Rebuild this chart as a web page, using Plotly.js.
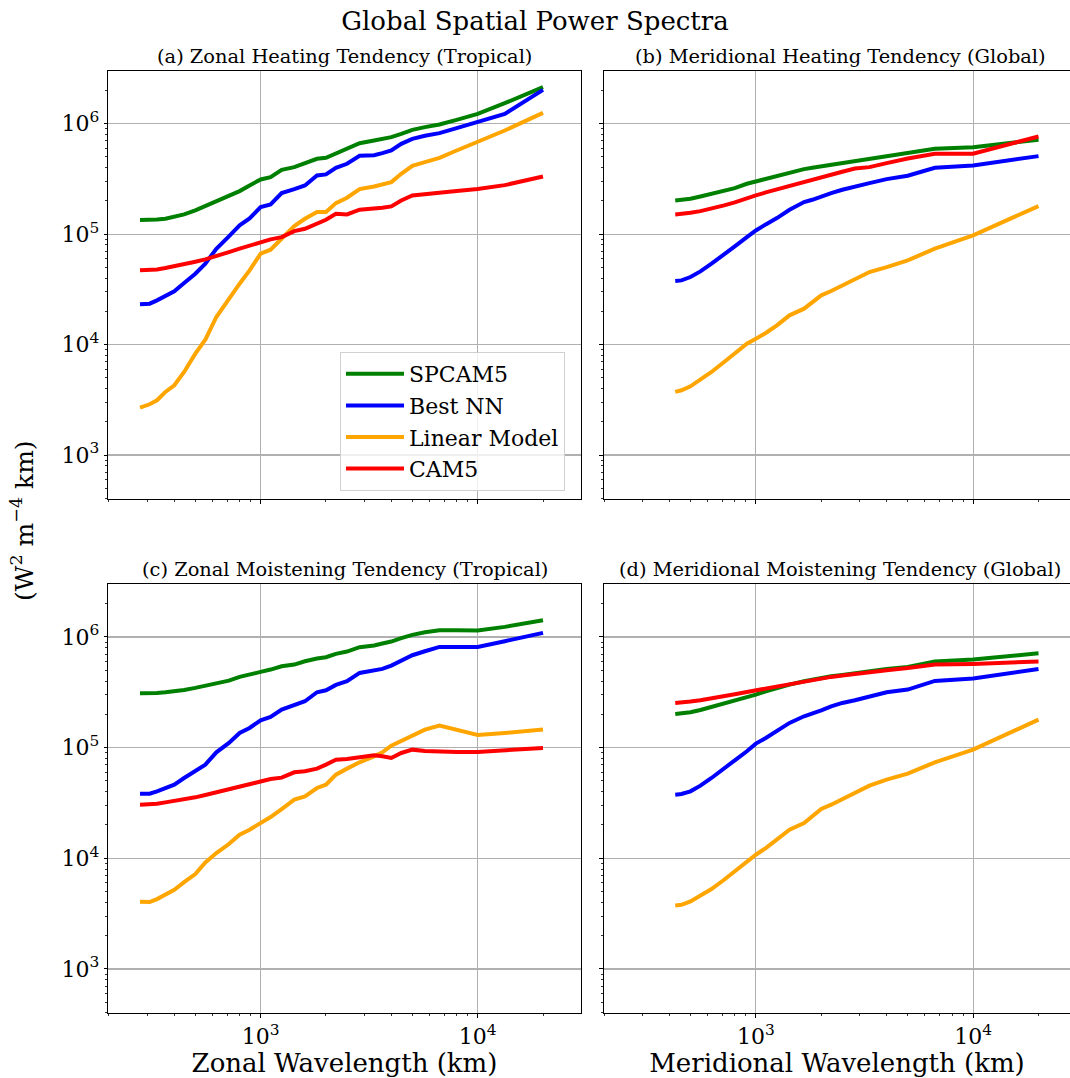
<!DOCTYPE html>
<html>
<head>
<meta charset="utf-8">
<script src="https://cdn.plot.ly/plotly-3.0.1.min.js"></script>
<style>html,body{margin:0;padding:0;background:#fff;}#chart{width:1070px;height:1078px;}</style>
</head>
<body>
<div id="chart"></div>
<script>
// Wavelengths (km)
const zonalWavelength = [278, 308, 333, 364, 400, 444, 500, 556, 625, 714, 800, 889, 1000, 1111, 1250, 1429, 1600, 1818, 2000, 2222, 2500, 2857, 3333, 3636, 4000, 4444, 5000, 5714, 6667, 8000, 10000, 13333, 20000];
const meridionalWavelength = [425.5, 454.5, 500, 555.6, 625, 714.3, 800, 909.1, 1000, 1111, 1250, 1429, 1667, 1818, 2000, 2222, 2500, 2857, 3333, 4000, 5000, 6667, 10000, 20000];

const seriesNames = ["SPCAM5", "Best NN", "Linear Model", "CAM5"];

// (a) Zonal Heating Tendency (Tropical)
const aSPCAM5 = [1.34e5, 1.34e5, 1.357e5, 1.376e5, 1.425e5, 1.506e5, 1.637e5, 1.792e5, 2.016e5, 2.237e5, 2.448e5, 2.755e5, 3.122e5, 3.278e5, 3.818e5, 4.036e5, 4.418e5, 4.80e5, 4.90e5, 5.33e5, 5.91e5, 6.65e5, 7.04e5, 7.23e5, 7.54e5, 8.08e5, 8.78e5, 9.29e5, 9.81e5, 1.082e6, 1.225e6, 1.53e6, 2.136e6];
const aBestNN = [2.311e4, 2.344e4, 2.512e4, 2.749e4, 3.03e4, 3.605e4, 4.377e4, 5.392e4, 7.37e4, 9.53e4, 1.198e5, 1.386e5, 1.755e5, 1.855e5, 2.349e5, 2.553e5, 2.755e5, 3.394e5, 3.465e5, 3.981e5, 4.326e5, 5.11e5, 5.18e5, 5.40e5, 5.71e5, 6.56e5, 7.28e5, 7.75e5, 8.19e5, 9.09e5, 1.03e6, 1.225e6, 2.02e6];
const aLinear = [2.687e3, 2.88e3, 3.13e3, 3.724e3, 4.279e3, 5.648e3, 8.275e3, 1.107e4, 1.776e4, 2.601e4, 3.555e4, 4.693e4, 6.64e4, 7.216e4, 9.07e4, 1.181e5, 1.376e5, 1.581e5, 1.581e5, 1.907e5, 2.131e5, 2.553e5, 2.698e5, 2.813e5, 2.953e5, 3.513e5, 4.15e5, 4.479e5, 4.90e5, 5.71e5, 6.89e5, 8.66e5, 1.252e6];
const aCAM5 = [4.693e4, 4.693e4, 4.79e4, 4.926e4, 5.10e4, 5.318e4, 5.62e4, 5.90e4, 6.28e4, 6.875e4, 7.37e4, 7.845e4, 8.35e4, 8.95e4, 9.39e4, 1.064e5, 1.117e5, 1.24e5, 1.348e5, 1.527e5, 1.506e5, 1.66e5, 1.683e5, 1.73e5, 1.779e5, 2.016e5, 2.237e5, 2.285e5, 2.349e5, 2.448e5, 2.553e5, 2.774e5, 3.323e5];

// (b) Meridional Heating Tendency (Global)
const bSPCAM5 = [2.016e5, 2.03e5, 2.087e5, 2.191e5, 2.316e5, 2.483e5, 2.606e5, 2.852e5, 2.994e5, 3.166e5, 3.346e5, 3.612e5, 3.871e5, 3.981e5, 4.093e5, 4.267e5, 4.418e5, 4.573e5, 4.734e5, 5.005e5, 5.33e5, 5.91e5, 6.12e5, 7.13e5];
const bBestNN = [3.757e4, 3.81e4, 4.085e4, 4.596e4, 5.392e4, 6.64e4, 7.735e4, 9.39e4, 1.079e5, 1.223e5, 1.395e5, 1.66e5, 1.947e5, 2.044e5, 2.191e5, 2.349e5, 2.518e5, 2.661e5, 2.893e5, 3.144e5, 3.37e5, 3.981e5, 4.178e5, 5.075e5];
const bLinear = [3.724e3, 3.856e3, 4.19e3, 4.814e3, 5.648e3, 6.958e3, 8.275e3, 1.019e4, 1.131e4, 1.272e4, 1.493e4, 1.838e4, 2.112e4, 2.427e4, 2.788e4, 3.051e4, 3.433e4, 3.945e4, 4.533e4, 5.029e4, 5.78e4, 7.37e4, 9.73e4, 1.792e5];
const bCAM5 = [1.506e5, 1.517e5, 1.559e5, 1.614e5, 1.695e5, 1.817e5, 1.934e5, 2.116e5, 2.237e5, 2.381e5, 2.535e5, 2.736e5, 2.994e5, 3.10e5, 3.323e5, 3.513e5, 3.663e5, 3.926e5, 4.036e5, 4.387e5, 4.835e5, 5.33e5, 5.33e5, 7.644e5];

// (c) Zonal Moistening Tendency (Tropical)
const cSPCAM5 = [3.10e5, 3.10e5, 3.122e5, 3.166e5, 3.232e5, 3.323e5, 3.465e5, 3.637e5, 3.818e5, 4.036e5, 4.357e5, 4.542e5, 4.835e5, 5.075e5, 5.44e5, 5.632e5, 6.036e5, 6.38e5, 6.56e5, 7.036e5, 7.386e5, 8.08e5, 8.365e5, 8.72e5, 9.09e5, 9.75e5, 1.045e6, 1.104e6, 1.151e6, 1.151e6, 1.143e6, 1.234e6, 1.418e6];
const cBestNN = [3.837e4, 3.837e4, 4.029e4, 4.318e4, 4.628e4, 5.318e4, 6.109e4, 7.019e4, 9.07e4, 1.102e5, 1.357e5, 1.506e5, 1.767e5, 1.894e5, 2.206e5, 2.448e5, 2.625e5, 3.166e5, 3.30e5, 3.688e5, 3.981e5, 4.734e5, 4.97e5, 5.146e5, 5.516e5, 6.166e5, 6.84e5, 7.435e5, 8.137e5, 8.137e5, 8.137e5, 9.157e5, 1.089e6];
const cLinear = [4.048e3, 4.02e3, 4.279e3, 4.683e3, 5.195e3, 6.095e3, 7.20e3, 9.18e3, 1.115e4, 1.345e4, 1.634e4, 1.813e4, 2.083e4, 2.36e4, 2.788e4, 3.386e4, 3.63e4, 4.318e4, 4.628e4, 5.70e4, 6.459e4, 7.37e4, 8.35e4, 9.07e4, 1.042e5, 1.157e5, 1.293e5, 1.455e5, 1.581e5, 1.435e5, 1.302e5, 1.357e5, 1.455e5];
const cCAM5 = [3.051e4, 3.051e4, 3.115e4, 3.203e4, 3.293e4, 3.433e4, 3.555e4, 3.731e4, 3.945e4, 4.14e4, 4.41e4, 4.628e4, 4.86e4, 5.207e4, 5.355e4, 5.983e4, 6.109e4, 6.459e4, 7.019e4, 7.79e4, 7.90e4, 8.233e4, 8.52e4, 8.35e4, 8.06e4, 8.95e4, 9.59e4, 9.33e4, 9.20e4, 9.14e4, 9.14e4, 9.53e4, 9.93e4];

// (d) Meridional Moistening Tendency (Global)
const dSPCAM5 = [2.016e5, 2.03e5, 2.087e5, 2.191e5, 2.332e5, 2.50e5, 2.661e5, 2.852e5, 3.015e5, 3.232e5, 3.465e5, 3.714e5, 3.981e5, 4.121e5, 4.267e5, 4.418e5, 4.542e5, 4.734e5, 4.90e5, 5.146e5, 5.366e5, 5.995e5, 6.25e5, 7.13e5];
const dBestNN = [3.757e4, 3.81e4, 4.029e4, 4.533e4, 5.318e4, 6.548e4, 7.68e4, 9.27e4, 1.087e5, 1.223e5, 1.405e5, 1.672e5, 1.92e5, 2.03e5, 2.176e5, 2.365e5, 2.535e5, 2.68e5, 2.913e5, 3.166e5, 3.346e5, 4.009e5, 4.208e5, 5.146e5];
const dLinear = [3.75e3, 3.80e3, 4.076e3, 4.585e3, 5.268e3, 6.40e3, 7.61e3, 9.38e3, 1.077e4, 1.237e4, 1.472e4, 1.813e4, 2.083e4, 2.393e4, 2.788e4, 3.051e4, 3.433e4, 3.945e4, 4.533e4, 5.136e4, 5.82e4, 7.37e4, 9.59e4, 1.792e5];
const dCAM5 = [2.535e5, 2.553e5, 2.606e5, 2.68e5, 2.774e5, 2.913e5, 3.036e5, 3.188e5, 3.30e5, 3.441e5, 3.586e5, 3.739e5, 3.926e5, 4.064e5, 4.178e5, 4.357e5, 4.479e5, 4.638e5, 4.80e5, 5.005e5, 5.254e5, 5.632e5, 5.71e5, 5.995e5];

const panelTitles = ["(a) Zonal Heating Tendency (Tropical)", "(b) Meridional Heating Tendency (Global)", "(c) Zonal Moistening Tendency (Tropical)", "(d) Meridional Moistening Tendency (Global)"];
const xTitles = ["Zonal Wavelength (km)", "Meridional Wavelength (km)"];
const xTickVals = [1e3, 1e4];
const xTickText = ["10<sup>3</sup>", "10<sup>4</sup>"];
const yTickVals = [1e3, 1e4, 1e5, 1e6];
const yTickText = ["10<sup>3</sup>", "10<sup>4</sup>", "10<sup>5</sup>", "10<sup>6</sup>"];

const colors = ["#008000", "#0000ff", "#ffa500", "#ff0000"];
const FONT = "DejaVu Serif";

const panels = [
  {x: zonalWavelength, ys: [aSPCAM5, aBestNN, aLinear, aCAM5], xa: "x", ya: "y"},
  {x: meridionalWavelength, ys: [bSPCAM5, bBestNN, bLinear, bCAM5], xa: "x2", ya: "y2"},
  {x: zonalWavelength, ys: [cSPCAM5, cBestNN, cLinear, cCAM5], xa: "x3", ya: "y3"},
  {x: meridionalWavelength, ys: [dSPCAM5, dBestNN, dLinear, dCAM5], xa: "x4", ya: "y4"}
];

const traces = [];
panels.forEach((p, pi) => {
  p.ys.forEach((yv, si) => {
    traces.push({
      x: p.x, y: yv, xaxis: p.xa, yaxis: p.ya, type: "scatter", mode: "lines",
      name: seriesNames[si], showlegend: pi === 0,
      line: {color: colors[si], width: 4}
    });
  });
});

const xMinor = [200, 300, 400, 500, 600, 700, 800, 900, 2000, 3000, 4000, 5000, 6000, 7000, 8000, 9000, 20000, 30000];
const yMinor = [400, 500, 600, 700, 800, 900, 2e3, 3e3, 4e3, 5e3, 6e3, 7e3, 8e3, 9e3, 2e4, 3e4, 4e4, 5e4, 6e4, 7e4, 8e4, 9e4, 2e5, 3e5, 4e5, 5e5, 6e5, 7e5, 8e5, 9e5, 2e6, 3e6];

function xAxis(domain, range, labels, title) {
  return {
    type: "log", domain: domain, range: range, anchor: null,
    tickmode: "array", tickvals: xTickVals, ticktext: xTickText, showticklabels: labels,
    ticks: "outside", ticklen: 3.5, tickwidth: 1, tickcolor: "#000",
    minor: {tickmode: "array", tickvals: xMinor, ticks: "outside", ticklen: 2, tickwidth: 0.8, tickcolor: "#000", showgrid: false},
    showgrid: true, gridcolor: "#b0b0b0", gridwidth: 1.1,
    showline: true, linecolor: "#000", linewidth: 1.1, mirror: true,
    zeroline: false,
    tickfont: {family: FONT, size: 22, color: "#000"},
    title: title ? {text: title, font: {family: FONT, size: 26, color: "#000"}, standoff: 4} : {text: ""}
  };
}
function yAxis(domain, labels, mirror) {
  return {
    type: "log", domain: domain, range: [2.602, 6.476],
    tickmode: "array", tickvals: yTickVals, ticktext: yTickText, showticklabels: labels,
    ticks: "outside", ticklen: 3.5, tickwidth: 1, tickcolor: "#000",
    minor: {tickmode: "array", tickvals: yMinor, ticks: "outside", ticklen: 2, tickwidth: 0.8, tickcolor: "#000", showgrid: false},
    showgrid: true, gridcolor: "#b0b0b0", gridwidth: 1.1,
    showline: true, linecolor: "#000", linewidth: 1.1, mirror: mirror,
    zeroline: false,
    tickfont: {family: FONT, size: 22, color: "#000"}
  };
}

const W = 1070, H = 1078;
const dLeft = [108.3 / W, 580.7 / W];
const dRight = [604 / W, 1];
const dTop = [1 - 499 / H, 1 - 71 / H];
const dBottom = [1 - 1013 / H, 1 - 584.3 / H];
const rLeft = [2.298, 4.4747];
const rRight = [2.301, 4.446];

const xa1 = xAxis(dLeft, rLeft, false, null); xa1.anchor = "y";
const xa2 = xAxis(dRight, rRight, false, null); xa2.anchor = "y2";
const xa3 = xAxis(dLeft, rLeft, true, xTitles[0]); xa3.anchor = "y3";
const xa4 = xAxis(dRight, rRight, true, xTitles[1]); xa4.anchor = "y4";
const ya1 = yAxis(dTop, true, true); ya1.anchor = "x";
const ya2 = yAxis(dTop, false, false); ya2.anchor = "x2";
const ya3 = yAxis(dBottom, true, true); ya3.anchor = "x3";
const ya4 = yAxis(dBottom, false, false); ya4.anchor = "x4";

const annFont = {family: FONT, size: 19.4, color: "#000"};
const annotations = [
  {text: panelTitles[0], x: (dLeft[0] + dLeft[1]) / 2, y: dTop[1], xref: "paper", yref: "paper", xanchor: "center", yanchor: "bottom", yshift: 1, showarrow: false, font: annFont},
  {text: panelTitles[1], x: (604 + 236) / W, y: dTop[1], xref: "paper", yref: "paper", xanchor: "center", yanchor: "bottom", yshift: 1, showarrow: false, font: annFont},
  {text: panelTitles[2], x: (dLeft[0] + dLeft[1]) / 2, y: dBottom[1], xref: "paper", yref: "paper", xanchor: "center", yanchor: "bottom", yshift: 1, showarrow: false, font: annFont},
  {text: panelTitles[3], x: (604 + 236) / W, y: dBottom[1], xref: "paper", yref: "paper", xanchor: "center", yanchor: "bottom", yshift: 1, showarrow: false, font: annFont},
  {text: "(W<sup>2</sup> m<sup>\u22124</sup> km)", x: 22 / W, y: 1 - 521 / H, xref: "paper", yref: "paper", xanchor: "center", yanchor: "middle", textangle: -90, showarrow: false, font: {family: FONT, size: 25, color: "#000"}}
];

const layout = {
  width: W, height: H,
  margin: {l: 0, r: 0, t: 0, b: 0, pad: 0},
  paper_bgcolor: "#fff", plot_bgcolor: "#fff",
  font: {family: FONT, color: "#000"},
  title: {text: "Global Spatial Power Spectra", x: 0.5, xanchor: "center", y: 1 - 21 / H, yanchor: "middle", font: {family: FONT, size: 26, color: "#000"}},
  showlegend: true,
  legend: {x: 340 / W, y: 1 - 352 / H, xanchor: "left", yanchor: "top", bgcolor: "rgba(255,255,255,0.8)", bordercolor: "#d0d0d0", borderwidth: 1, font: {family: FONT, size: 22, color: "#000"}, tracegroupgap: 0, itemwidth: 58},
  xaxis: xa1, yaxis: ya1, xaxis2: xa2, yaxis2: ya2, xaxis3: xa3, yaxis3: ya3, xaxis4: xa4, yaxis4: ya4,
  annotations: annotations
};

Plotly.newPlot("chart", traces, layout, {displayModeBar: false, staticPlot: true});
</script>
</body>
</html>
